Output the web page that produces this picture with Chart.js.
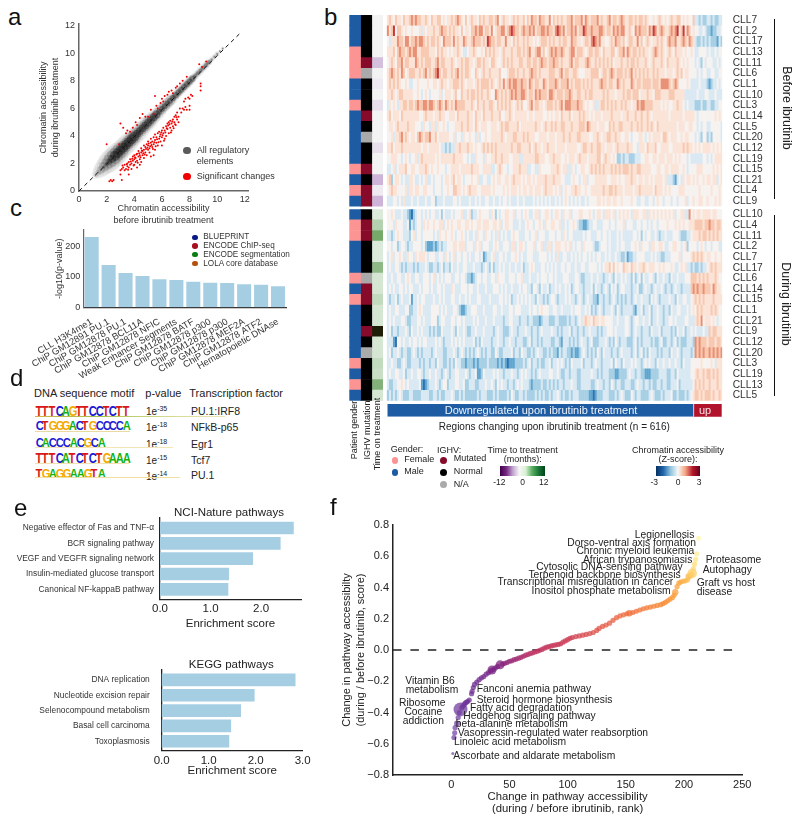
<!DOCTYPE html>
<html><head><meta charset="utf-8">
<script src="https://cdn.jsdelivr.net/npm/chart.js@4"></script>
<style>
html,body{margin:0;padding:0;background:#fff}
#w{position:relative;width:800px;height:821px;overflow:hidden;background:#fff;font-family:"Liberation Sans",Arial,sans-serif;color:#222;filter:blur(.35px)}
#w canvas{position:absolute}
#w span.t{position:absolute;white-space:nowrap;line-height:1}
#w div.g{position:absolute}
</style></head><body><div id="w"></div>
<script>
/* ---------- panel a ---------- */
const cloudX=[1.2,1.4,1.6,1.8,2.0,2.2,2.4,2.6,2.8,3.0,3.2,3.4,3.6,3.8,4.0,4.2,4.4,4.6,4.8,5.0,5.2,5.4,5.6,5.8,6.0,6.2,6.4,6.6,6.8,7.0,7.2,7.4,7.6,7.8,8.0,8.2,8.4,8.6,8.8,9.0,9.2,9.4,9.6,9.8,10.0,10.2,10.4];
const cloudY=[1.15,1.35,1.55,1.75,1.95,2.15,2.35,2.55,2.75,2.95,3.15,3.35,3.55,3.75,3.95,4.15,4.35,4.55,4.75,4.95,5.15,5.35,5.55,5.75,5.95,6.15,6.35,6.55,6.75,6.95,7.15,7.35,7.55,7.75,7.95,8.15,8.35,8.55,8.75,8.95,9.15,9.35,9.55,9.75,9.95,10.15,10.35];
const cloudOuter=[4,6,8,9,10,11,11,11,11,10,10,10,10,9,9,9,9,8,8,8,8,7,7,7,6,6,6,6,6,5,5,5,5,5,5,4,4,4,4,4,4,3,3,3,3,2,2];
const cloudMid=[2,3,4,5,6,7,8,8,8,8,7,7,7,7,7,6,6,6,6,6,6,5,5,5,5,5,5,5,4,4,4,4,4,4,4,4,3,3,3,3,3,3,2,2,2,1,1];
const cloudCore=[.5,.5,1,1.5,2,3,4,5,5,5,5,5,5,5,5,4,4,4,4,4,4,4,4,3,3,3,3,3,3,3,3,3,3,3,3,3,2,2,2,2,2,2,1,1,1,1,1];
const identityX=[0,11.6], identityY=[0,11.4];
const redPairs=[[3.0,1.5],[3.1,1.6],[3.2,1.7],[3.3,1.5],[3.3,1.9],[3.4,1.6],[3.5,1.8],[3.5,2.0],[3.6,1.7],[3.6,2.1],[3.7,1.9],[3.7,2.3],[3.8,1.6],[3.8,2.0],[3.9,2.2],[3.9,2.5],[4.0,1.9],[4.0,2.3],[4.0,2.6],[4.1,2.1],[4.1,2.4],[4.2,1.7],[4.2,2.2],[4.2,2.7],[4.3,2.5],[4.3,2.9],[4.4,2.3],[4.4,2.6],[4.5,2.1],[4.5,2.8],[4.5,3.1],[4.6,2.6],[4.6,2.9],[4.7,2.4],[4.7,3.0],[4.7,3.3],[4.8,2.8],[4.8,3.2],[4.9,2.6],[4.9,3.4],[5.0,3.0],[5.0,3.3],[5.0,3.6],[5.1,2.8],[5.1,3.1],[5.2,3.5],[5.2,2.5],[5.2,3.8],[5.3,3.2],[5.3,3.6],[5.4,3.4],[5.4,3.9],[5.5,3.0],[5.5,3.7],[5.5,4.1],[5.6,3.5],[5.6,3.9],[5.7,3.3],[5.7,4.2],[5.8,3.8],[5.8,4.3],[5.9,3.6],[5.9,4.1],[6.0,4.4],[6.0,3.9],[6.0,3.3],[6.1,4.2],[6.1,4.6],[6.2,3.8],[6.2,4.4],[6.3,4.7],[6.3,4.0],[6.4,4.5],[6.4,4.9],[6.5,4.2],[6.5,5.0],[6.6,4.6],[6.6,5.1],[6.7,4.4],[6.7,4.9],[6.8,5.2],[6.8,4.7],[6.9,5.0],[6.9,5.4],[7.0,4.8],[7.0,5.5],[7.1,5.2],[7.1,5.7],[7.2,5.0],[7.2,5.4],[7.3,6.0],[7.4,5.7],[7.5,6.0],[7.6,5.9],[7.7,6.1],[7.8,5.9],[8.0,5.9],[8.0,6.2],
[3.15,1.85],[3.45,1.95],[3.55,1.55],[3.75,2.15],[3.85,2.35],[3.95,1.85],[4.05,2.45],[4.15,2.65],[4.25,2.05],[4.35,2.75],[4.45,2.45],[4.55,2.95],[4.65,2.75],[4.75,2.65],[4.85,3.05],[4.95,3.15],[5.05,3.45],[5.15,3.25],[5.25,3.35],[5.35,3.05],[5.45,3.55],[5.55,3.25],[5.65,3.75],[5.75,3.55],[5.85,3.95],[5.95,4.25],[6.05,4.05],[6.15,3.65],[6.25,4.25],[6.35,4.55],[6.45,4.75],[6.55,4.85],[6.65,4.25],[6.75,5.05],[6.85,4.55],[6.95,4.85],[7.05,5.35],
[8.0,6.7],[8.1,7.0],[7.9,6.8],[8.2,6.9],[7.6,6.5],[7.7,6.7],[8.8,7.3],[8.8,7.6],[8.8,7.8],[2.0,3.4],[2.9,3.4],[3.0,4.9],[3.2,4.6],[3.4,4.2],[3.5,4.4],[3.7,4.3],[3.9,4.6],[4.1,5.0],[4.2,4.8],[4.4,5.3],[4.6,5.6],[4.8,5.4],[5.0,5.4],[5.2,5.9],[5.4,5.6],[5.6,6.2],[5.7,6.0],[5.5,6.9],[5.9,6.4],[6.0,6.7],[6.1,6.5],[6.2,6.9],[6.4,7.0],[6.5,7.2],[6.7,7.3],[6.8,7.1],[7.0,7.5],[7.1,7.6],[7.3,7.8],[7.5,8.0],[7.8,8.3],[8.7,9.2],[8.9,9.0],[9.2,9.4],[2.2,0.7],[2.3,0.8],[2.5,0.8],[2.4,0.7],[3.1,0.8],[3.0,1.2],[3.6,1.2],[4.4,1.9],[5.4,2.6]];
/* ---------- panel b ---------- */
const rowsBefore=["CLL7","CLL2","CLL17","CLL13","CLL11","CLL6","CLL1","CLL10","CLL3","CLL14","CLL5","CLL20","CLL12","CLL19","CLL15","CLL21","CLL4","CLL9"];
const rowsDuring=["CLL10","CLL4","CLL11","CLL2","CLL7","CLL17","CLL6","CLL14","CLL15","CLL1","CLL21","CLL9","CLL12","CLL20","CLL3","CLL19","CLL13","CLL5"];
const genderBefore="MMMFFFMMFMMMMMFMFM".split("");
const genderDuring="MFFMMMFMFMMMMMFMFM".split("");
const ighvBefore="NNNNMXNNNMNXNNMNMM".split("");
const ighvDuring="NMMNNNXMMNNMNXNNNN".split("");
const timeBefore=[0,0,0,0,-5,0,-1,0,-2,0,0,0,-2,0,0,-6,-1,-6];
const timeDuring=[1,4,9,1,1,7,1.5,1.5,3,1.5,1.5,99,1.5,1.5,3,2.5,8,1.5];
const regionsDown=565, regionsUp=51;
/* z-score classes, one per block of regions: 0 = strongly closed … 4 = unchanged … 8 = strongly open */
const heatBefore=[
"5654655465 5676766556 5465566454 5565676546 4565546565 5665674565 5456565564 6576657665 5746565655 6675666757 6566675655 6756656765 5665656656 5445456545 4565566454 5446332322 33232233",
"7568466545 4454445354 5556556766 5656554645 5466767756 6574566775 6787665676 6767566776 7665787675 6676756687 6676667765 6657676775 5654767666 5768756765 5676785685 7645443343 22122334",
"4355576657 7566767765 6566565476 6657565576 5567666565 8766566557 5546565565 6554545666 5656556566 5576655456 6578767554 4565766564 5665575645 6545565654 6766755676 5765322323 23222132",
"5556467665 6767755666 6555465655 4545565433 4556544546 5656554565 5565566565 6755677564 5676766765 5677566654 5665665465 5566456675 7656656565 5456765654 5654655545 4454334444 34334344",
"4565466756 6555765656 6655675665 5565455656 6554566565 5466544565 6565556655 6656656766 5667665655 5675665556 7655656565 6564555655 6566565556 5456555654 6555565454 5444343243 44433434",
"5676565764 5666556567 5656786566 5565675656 6544654565 5655556444 5666565565 5676656555 5666556756 6556654445 5566664566 5676566656 5675656565 6556565554 5554565645 5444434344 33443344",
"5656565445 4334454444 5445545655 4556665654 5554565666 6565456575 6767766766 5765665576 5666765666 7565666565 6565556766 5665576565 5576566566 6656665777 7656764444 5433334333 21233434",
"5565456655 5554454345 4344445345 5545644655 6566565655 6544765656 5676766776 5665767666 5776566656 6765566556 5665555565 6555455565 6656664555 6554666555 5666555553 3333343334 43334333",
"3545435566 5665676677 6776567657 6565766665 5565465565 5665465656 5654565644 5675665545 6665656757 7766676654 5445335665 6565655656 5545576776 6665555454 5445565543 4333222322 33223344",
"5645554655 5555554456 5554556554 4555465555 6554655465 5565556445 5654555555 4554555544 5454554655 5645556565 5454555455 5565555455 6555655655 6545555555 5455555545 5555434444 44445454",
"4554565555 6555444354 4355354454 3444555655 6554654555 4455545656 6555564555 5555655456 5565655665 5565556665 7655545554 4656556655 5565565655 6565465555 5555545554 4554434344 33444443",
"4453556756 5455467656 6755645555 5445344354 4544353445 4455555654 5556655565 6555445555 4555455565 5655566555 5445565455 6655655445 5434445543 4545555466 5455544545 5444343244 23244443",
"5564555655 5555555455 4555554332 3233556555 6554544565 6565655555 5565566555 5645655455 6555455554 5555544566 5565566554 5554565555 6554435554 6555644555 5445555565 6554545455 55454545",
"4455544345 4344535655 5555454555 5556555544 3433544435 4455655655 5445553355 5555665554 4556555445 4555456555 4555566456 5545422323 3222333445 5445545554 5554545444 3433333344 34345555",
"3345345556 4455445556 5454454443 4455554555 5565554455 5533456544 3445556555 3344335444 4455565455 3354344554 4565656565 5565656566 6565566555 5544455445 5455554454 3444455544 44454545",
"5624554343 3554334345 3343444345 5456455434 4454453344 3345455445 5456555454 5545455556 5556555443 3345443455 3444555555 4455545445 5565545545 5454555545 3332134354 5545454454 55455345",
"4565544445 3554554455 4443444344 5446655454 5655544555 5545444454 5455545455 4554555456 5554545345 4455655445 4455555565 5665655545 5554556555 5554655545 4544445554 4444445444 44544454",
"3334434353 3343343334 3344233343 3334434333 3433434334 4334334344 3433343343 3334343434 3433434345 4343434334 3444455454 5545544544 4454433443 3443454434 4434434445 3445445544 54445454"];
const heatDuring=[
"4454333433 2102344343 4344334243 3343444533 4523345444 4354243445 5445344345 4334553445 5434554354 4534445544 4543455435 5545345454 5435554455 3545454545 4545344553 3745455455 55455444",
"4443544433 4132344354 5445445534 5454455445 5454455455 5445545345 5443334334 5443445435 4455445334 3445432211 2334433344 4344344453 4443344344 3434434444 5444545454 4555666656 67665665",
"3323454433 3245344344 4443435445 4454344543 4334354435 4434353434 3345443334 4344534443 3444344354 3443333343 4433344344 3433343433 3334434243 4433432334 3334443222 3345556566 56565655",
"4434423443 2334444342 1112123233 4445545553 4443545344 4334543344 4355345543 4445344533 5534555445 4534344354 4443223444 3433343443 3344543544 4355445543 3445544345 2444434543 44344433",
"3453445433 5443545554 3444334435 4345344344 3433443412 3345334434 3344543433 4443334444 3434353344 3343434344 3434344334 3433433223 1223344443 3343433223 3344445344 4456565654 55445445",
"3433443232 3332323334 3223323423 3243343344 3334333234 3242334343 3433433423 3454333443 4343433443 4433433443 3444434345 5646454465 5465545565 4555445454 4454334545 3323223233 45656555",
"3343344334 5433443344 4345343434 4433443443 2212344344 3344354443 3444344533 3433343444 3443433344 4333443223 3343343323 3432433434 3324234243 3443243343 3243343334 4466656565 65556544",
"3434334434 3443334344 4343344343 3354333444 3443343334 3334443434 3343334344 3324432433 4233434334 3423443323 3342433234 3243423443 3323342234 3323433432 3323433233 3367676676 66576554",
"3233423433 3413343443 3334334343 3344334334 3433344333 3433334434 3423343434 3433243323 2344323334 3433234323 4332213323 3234323232 3323433433 3243432333 3433243344 3345656565 55565555",
"3433443334 4223345433 3344443434 3334432112 3344433343 3334433433 3443444333 3434434544 4334433433 3343444334 3423234323 3343243233 3332133423 3423343323 3243344333 4345465655 55656544",
"3434333443 2233344343 3344423443 3344344343 3334343334 3334333323 3443332333 2332221233 3222332222 3233234356 5546554554 4443343334 4323443343 3423343323 3443433334 4333565745 55454344",
"3423323334 3243343433 3232322433 3343243343 2233433343 3332343322 2343323334 3323323433 3343323233 3423323323 3433323233 4443433334 4323433233 3243334233 3323243342 3343433343 36566555",
"3331044343 3434434344 3333434323 3343434343 3334232433 3323343323 3433233322 3423323233 3322332133 3232323433 2342223334 3232432333 2223423233 3323223422 3323423222 3332767666 56665665",
"3423343233 2234323233 3323433322 3334323432 3232343232 3322432233 3342332433 2232343322 3232213233 2212112343 2323243243 3323323433 3323423423 2433323233 3243343233 3323767676 67676767",
"3343322343 2233332323 3233243322 3232433221 2221212222 3222212121 0111222232 3423323223 3423343432 3243333423 3323433233 3342433243 3343433234 3433243343 3433433243 3344444544 44543555",
"3433443342 3343344323 3433433234 3233443334 3233411243 3334343323 3343323434 3323234333 3443343223 3233322333 3343323233 3222112222 3433233221 1122223333 2233243333 3344565565 66565655",
"3223344543 4333334101 2333432344 2333443342 2333223334 3343243433 2332343433 3212222322 3232323323 3343322333 3322343323 3243233223 3322343323 3232233233 2233342333 3334656565 56555655",
"2323234322 2332222333 3223323223 3343223232 2222232333 2223232222 3243223323 2222323232 2323343232 2323332222 2110122233 3222323432 2243233222 2343222323 3342232223 2345665656 66565565"];
/* ---------- panel c ---------- */
const enrichLabels=["CLL H3K4me1","ChiP GM12891 PU.1","ChiP GM12878 PU.1","ChiP GM12878 BCL11A","ChiP GM12878 NFIC","Weak Enhancer Segments","ChiP GM12878 BATF","ChiP GM12878 p300","ChiP GM12878 p300","ChiP GM12878 MEF2A","ChiP GM12878 ATF2","Hematopoietic DNAse"];
const enrichValues=[231,139,113,103,92,90,84,81,80,76,74,69];
const enrichSource=["B","E","E","E","E","S","E","E","E","E","E","L"];
/* ---------- panel e ---------- */
const nciLabels=["Negative effector of Fas and TNF-α","BCR signaling pathway","VEGF and VEGFR signaling network","Insulin-mediated glucose transport","Canonical NF-kappaB pathway"];
const nciValues=[2.64,2.38,1.835,1.36,1.346];
const keggLabels=["DNA replication","Nucleotide excision repair","Selenocompound metabolism","Basal cell carcinoma","Toxoplasmosis"];
const keggValues=[2.84,1.97,1.68,1.47,1.43];
/* ---------- panel f ---------- */
const curveRank=[1.4,2.4,3,3.4,5,6,7,8,9,10,11,12,13,14,15.5,17.5,18,19,20,22,24,26,28,30,32,34,35,36,38,40,42,44,46,48,50,52,54,56,58,60,62,64,66,68,70,72,74,76,78,80,82,84,86,88,90,92,94,96,98,100,102,104,107,110,113,116,119,122,125,127,130,133,136,139,142,145,148,151,153,156,159,162,165,168,171,174,177,180,182,184,186,188,190,191.5,192.5,194,195.5,197,199,201,203,204,205,206.5,207,208,209,210,211,212.5];
const curveScore=[-.662,-.56,-.53,-.497,-.47,-.432,-.40,-.38,-.37,-.36,-.35,-.34,-.335,-.33,-.32,-.28,-.264,-.24,-.22,-.205,-.19,-.178,-.17,-.155,-.145,-.132,-.128,-.125,-.115,-.105,-.095,-.09,-.085,-.08,-.072,-.069,-.062,-.058,-.052,-.047,-.04,-.033,-.028,-.022,-.018,-.012,-.008,-.002,.004,.012,.018,.022,.026,.03,.033,.036,.04,.05,.058,.066,.075,.08,.086,.09,.095,.1,.105,.112,.125,.138,.151,.16,.172,.19,.207,.218,.225,.232,.235,.24,.248,.256,.264,.27,.275,.28,.285,.29,.297,.305,.315,.325,.335,.35,.37,.405,.428,.435,.44,.443,.448,.47,.475,.485,.49,.52,.549,.58,.616,.715];
const curveSizeRanks={1.4:1.5,5:3,8:7,35:4.5,42:4.5,153:3.2,192.5:3.2,204:3.2,207:4.8,212.5:2.5};
const thresholdX=[-50,245], thresholdY=[0,0];

/* ---------- helpers ---------- */
Chart.defaults.font.family='"Liberation Sans",Arial,sans-serif';
const W=document.getElementById('w');
function T(text,x,y,o={}){
  const s=document.createElement('span');s.className='t';
  if(o.html)s.innerHTML=text;else s.textContent=text;
  s.style.left=x+'px';s.style.top=y+'px';s.style.fontSize=(o.size||10)+'px';
  s.style.color=o.color||'#222';
  if(o.weight)s.style.fontWeight=o.weight;
  const ax=o.align==='r'?'-100%':o.align==='c'?'-50%':'0';
  s.style.transform=`translate(${ax},-50%)`+(o.rot?` rotate(${o.rot}deg)`:'')+(o.extra||'');
  W.appendChild(s);return s;
}
function dot(x,y,r,c){const d=document.createElement('div');d.className='g';
  d.style.cssText+=`left:${x-r}px;top:${y-r}px;width:${2*r}px;height:${2*r}px;border-radius:50%;background:${c}`;W.appendChild(d);}
function rect(x,y,w,h,bg){const d=document.createElement('div');d.className='g';
  d.style.cssText+=`left:${x}px;top:${y}px;width:${w}px;height:${h}px;background:${bg}`;W.appendChild(d);}
function build(b,m,cfg,soft){
  const c=document.createElement('canvas');
  const cx=Math.floor(b.l-m.l),cy=Math.floor(b.t-m.t),cw=Math.ceil(b.r+m.r)-cx,ch=Math.ceil(b.b+m.b)-cy;
  c.width=cw;c.height=ch;c.style.left=cx+'px';c.style.top=cy+'px';c.style.width=cw+'px';c.style.height=ch+'px';
  if(soft)c.style.filter=`blur(${soft}px)`;
  W.appendChild(c);
  const p={left:b.l-cx,top:b.t-cy,right:cx+cw-b.r,bottom:cy+ch-b.b};
  const padding=Object.assign({},p);
  const o=cfg.options=cfg.options||{};
  Object.values(o.scales||{}).forEach(s=>{
    if(s.display===false)return;
    const pos=s.position;padding[pos]=0;
    s.afterFit=sc=>{if(pos==='left'||pos==='right')sc.width=p[pos];else sc.height=p[pos];
      sc.paddingLeft=sc.paddingRight=sc.paddingTop=sc.paddingBottom=0;};
  });
  o.responsive=false;o.animation=false;o.devicePixelRatio=1;o.layout={padding};
  o.plugins=Object.assign({legend:{display:false},tooltip:{enabled:false}},o.plugins||{});
  return new Chart(c,cfg);
}
const axis=(extra,border='#333',bw=1.5)=>Object.assign({grid:{display:false,drawTicks:false},border:{color:border,width:bw}},extra);

/* ---------- a ---------- */
const cloudLayer=(radii,alpha,ord)=>({type:'bubble',order:ord,data:cloudX.map((x,i)=>({x,y:cloudY[i],r:radii[i]})),backgroundColor:`rgba(0,0,0,${alpha})`,borderWidth:0});
build({l:79,r:249,t:16.7,b:191},{l:41,r:10,t:3,b:35},{type:'scatter',data:{datasets:[
  {type:'line',order:1,data:identityX.map((x,i)=>({x,y:identityY[i]})),borderColor:'#111',borderWidth:1,borderDash:[4,3.6],pointRadius:0,showLine:true},
  {order:2,data:redPairs.map(p=>({x:p[0],y:p[1]})),pointRadius:1,backgroundColor:'#f00000',borderWidth:0},
  cloudLayer(cloudCore,.34,3),cloudLayer(cloudMid,.13,4),cloudLayer(cloudOuter,.05,5)
]},options:{scales:{
  x:axis({type:'linear',position:'bottom',min:0,max:12.23,ticks:{stepSize:2,includeBounds:false,padding:3,color:'#333',font:{size:9},maxRotation:0},
    title:{display:true,text:['Chromatin accessibility','before ibrutinib treatment'],font:{size:9,lineHeight:1.3},color:'#333',padding:0}},'#666'),
  y:axis({type:'linear',position:'left',min:0,max:12.13,ticks:{stepSize:2,includeBounds:false,padding:4,color:'#333',font:{size:9}},
    title:{display:true,text:['Chromatin accessibility','during ibrutinib treatment'],font:{size:9,lineHeight:1.3},color:'#333',padding:0}},'#666')
}}});
dot(187,150.7,3.6,'#5a5a5a');dot(187,176.3,3.6,'#f00000');
T('All regulatory',196.7,150,{size:9,color:'#333'});T('elements',196.7,161.3,{size:9,color:'#333'});T('Significant changes',196.7,176,{size:9,color:'#333'});

/* ---------- b ---------- */
const heatPalette=['#2b72b2','#5fa5d0','#a5cfe5','#d9e9f3','#f6f2f0','#fbe3d6','#f8c8b0','#ea8f73','#c23a3a'];
const genderColor={M:'#1d5ca3',F:'#fc9494'},ighvColor={N:'#000000',M:'#860b2b',X:'#aaaaaa'};
function timeColor(v){
  if(v>12)return '#1e1e08';
  if(v<0){const t=-v/8;return `rgb(${246-t*55},${244-t*85},${246-t*40})`;}
  if(v===0)return '#f4f3f4';
  const t=v/9;return `rgb(${232-t*115},${242-t*72},${232-t*125})`;
}
function annot(top,labels,gender,ighv,time){
  const col=(arr,fn)=>({data:labels.map(()=>1),backgroundColor:arr.map(fn),borderWidth:0,barPercentage:1,categoryPercentage:1});
  build({l:349.3,r:383,t:top,b:top+191.6},{l:0,r:0,t:0,b:0},{type:'bar',data:{labels,datasets:[col(gender,g=>genderColor[g]),col(ighv,g=>ighvColor[g]),col(time,timeColor)]},
    options:{indexAxis:'y',scales:{x:{display:false,stacked:true,min:0,max:3},y:{display:false,stacked:true}}}});
}
function heat(top,labels,rows){
  const cells=rows.map(r=>r.replace(/ /g,'').split('').map(Number));
  const n=168,span=(regionsDown+regionsUp)/n;
  const datasets=[];
  for(let j=0;j<n;j++)datasets.push({data:labels.map(()=>span),backgroundColor:cells.map(r=>heatPalette[r[j]===undefined?4:r[j]]),borderWidth:0,barPercentage:1,categoryPercentage:1,inflateAmount:.25});
  build({l:386.7,r:722.3,t:top,b:top+191.6},{l:0,r:50,t:0,b:0},{type:'bar',data:{labels,datasets},options:{indexAxis:'y',scales:{
    x:{display:false,stacked:true,min:0,max:regionsDown+regionsUp},
    y:{position:'right',stacked:true,grid:{display:false,drawTicks:false},border:{display:false},ticks:{padding:10.4,color:'#333',font:{size:10.2},autoSkip:false}}
  }}},.35);
}
annot(15,rowsBefore,genderBefore,ighvBefore,timeBefore);
annot(209.2,rowsDuring,genderDuring,ighvDuring,timeDuring);
heat(15,rowsBefore,heatBefore);
heat(209.2,rowsDuring,heatDuring);
build({l:387.3,r:721.7,t:404,b:416.7},{l:0,r:0,t:0,b:0},{type:'bar',data:{labels:['regions'],datasets:[
  {data:[regionsDown],backgroundColor:'#1d5ca3',borderColor:'#fff',borderWidth:{right:1},borderSkipped:false,barPercentage:1,categoryPercentage:1},
  {data:[regionsUp],backgroundColor:'#b0132b',borderWidth:0,barPercentage:1,categoryPercentage:1}
]},options:{indexAxis:'y',scales:{x:{display:false,stacked:true,min:0,max:regionsDown+regionsUp},y:{display:false,stacked:true}}}});
T('Downregulated upon ibrutinib treatment',541,410.3,{size:11,align:'c',color:'#eef3fa'});
T('up',705,410.3,{size:11,align:'c',color:'#f6e6e8'});
T('Regions changing upon ibrutinib treatment (n = 616)',554.3,427.3,{size:10,align:'c'});
rect(773.6,19,1.4,180,'#111');rect(773.6,215,1.4,181,'#111');
T('Before ibrutinib',786.7,108,{size:12.4,align:'c',rot:90});
T('During ibrutinib',785.7,304,{size:12.4,align:'c',rot:90});
T('Patient gender',354,430,{size:9,align:'c',rot:-90});
T('IGHV mutation',366.7,430,{size:9,align:'c',rot:-90});
T('Time on treatment',377.3,434,{size:9,align:'c',rot:-90});
T('Gender:',390.7,449.3,{size:9});dot(395,460.7,3.3,'#fc9494');dot(395,472.3,3.3,'#1d5ca3');
T('Female',404.3,459.3,{size:9});T('Male',404.3,471,{size:9});
T('IGHV:',437,449.7,{size:9});dot(443.7,460.3,3.5,'#860b2b');dot(443.7,472,3.5,'#000');dot(443.7,484.3,3.5,'#aaa');
T('Mutated',453.7,458,{size:9});T('Normal',453.7,471,{size:9});T('N/A',453.7,484,{size:9});
T('Time to treatment',522.7,450,{size:9,align:'c'});T('(months):',522.7,458.8,{size:9,align:'c'});
rect(500.3,466,44.7,10.3,'linear-gradient(90deg,#40004b,#762a83,#c2a5cf,#f7f7f7,#d9f0d3,#5aae61,#1b7837,#00441b)');
T('-12',499.3,481.7,{size:8.5,align:'c'});T('0',522.7,481.7,{size:8.5,align:'c'});T('12',543.7,481.7,{size:8.5,align:'c'});
T('Chromatin accessibility',678,450,{size:9,align:'c'});T('(Z-score):',678,459,{size:9,align:'c'});
rect(656,466,44.3,10.3,'linear-gradient(90deg,#053061,#2166ac,#92c5de,#f7f7f7,#f4a582,#b2182b,#67001f)');
T('-3',654.3,481.7,{size:8.5,align:'c'});T('0',678,481.7,{size:8.5,align:'c'});T('3',699,481.7,{size:8.5,align:'c'});

/* ---------- c ---------- */
const sourceColor={B:'#0a1a85',E:'#a80f1e',S:'#0b7d16',L:'#b4510e'};
const markerLevel=-15.8;
build({l:83.2,r:286.5,t:228,b:307.3},{l:60,r:6,t:2,b:70},{type:'bar',data:{labels:enrichLabels,datasets:[
  {type:'line',order:1,data:enrichLabels.map(()=>markerLevel),showLine:false,clip:false,pointRadius:2.8,pointBackgroundColor:enrichSource.map(s=>sourceColor[s]),pointBorderWidth:0},
  {order:2,data:enrichValues,backgroundColor:'#a6cee3',barPercentage:.83,categoryPercentage:1}
]},options:{scales:{
  x:axis({position:'bottom',ticks:{autoSkip:false,minRotation:30,maxRotation:30,padding:9,color:'#333',font:{size:9.4}}},'#333',1.2),
  y:axis({type:'linear',position:'left',min:0,max:254,ticks:{stepSize:100,includeBounds:false,padding:3,color:'#333',font:{size:9}},
    title:{display:true,text:'-log10(p-value)',font:{size:9,lineHeight:1.3},color:'#333',padding:{top:31,bottom:0}}},'#666',1.2)
}}});
[['BLUEPRINT','B',237.3],['ENCODE ChIP-seq','E',246],['ENCODE segmentation','S',254.7],['LOLA core database','L',263.7]].forEach(r=>{dot(195,r[2],2.8,sourceColor[r[1]]);T(r[0],203.3,r[2],{size:8.2,color:'#333'});});

/* ---------- d ---------- */
const logoColor={A:'#12b312',C:'#1a1ad6',G:'#f4a900',T:'#d81818'};
function logo(seq,y,pitch,sy){seq.split('').forEach((ch,i)=>T(ch,34.5+i*pitch,y,{size:13,weight:'bold',color:logoColor[ch],extra:` scale(.86,${sy})`,}));}
T('DNA sequence motif',34,393,{size:11});T('p-value',145.3,393,{size:11});T('Transcription factor',189.3,393,{size:11});
const motifs=[['TTTCAGTTCCTCTT',410.5,6.7,1.1,'1e','-35','PU.1:IRF8',410.7,412.3],['CTGGGACTGCCCCA',426,6.7,.95,'1e','-18','NFkB-p65',427.3,428.3],['CACCCACGCA',441.5,6.9,1.05,'1e','-18','Egr1',444,445],['TTTCATCTCTGAAA',457.5,6.7,1.1,'1e','-15','Tcf7',460,460.7],['TGAGGAAGTA',472.8,6.9,1.05,'1e','-14','PU.1',475.3,477.3]];
motifs.forEach(m=>{logo(m[0],m[1],m[2],m[3]);T(`${m[4]}<sup style="font-size:7px;vertical-align:4px;line-height:0">${m[5]}</sup>`,146,m[8],{size:10,html:true});T(m[6],191,m[7],{size:10.5});});
rect(35,415.6,190,1,'linear-gradient(90deg,#d2b24a,#a6c24c,#cfd88a,#efe6b4)');
rect(35,431.4,95,.8,'#ecd9a0');rect(35,446.8,138,.9,'#f3e5b5');rect(35,462.6,94,.8,'#efe2b0');rect(35,477.4,145,1,'#f1dfa0');

/* ---------- e ---------- */
function hbars(b,m,labels,values,xmax,lp,yr){
  build(b,m,{type:'bar',data:{datasets:[{data:values.map((v,i)=>({x:v,y:i})),backgroundColor:'#a6cee3',barThickness:12}]},options:{indexAxis:'y',scales:{
    x:axis({type:'linear',position:'bottom',min:0,max:xmax,ticks:{stepSize:1,includeBounds:false,padding:3,color:'#222',font:{size:11.5},maxRotation:0,callback:v=>v.toFixed(1)},
      title:{display:true,text:'Enrichment score',font:{size:11.5,lineHeight:1.2},color:'#222',padding:0}},'#222',1.3),
    y:axis({type:'linear',position:'left',reverse:true,offset:false,min:yr[0],max:yr[1],ticks:{stepSize:1,includeBounds:false,autoSkip:false,padding:lp,color:'#333',font:{size:8.4},callback:v=>labels[v]}},'#222',1.3)
  }}});
}
hbars({l:160,r:301,t:518,b:599.3},{l:150,r:10,t:3,b:31},nciLabels,nciValues,2.79,6,[-.65,4.65]);
hbars({l:161.7,r:302.7,t:670,b:750.7},{l:150,r:12,t:3,b:27},keggLabels,keggValues,3,12,[-.65,4.62]);
T('NCI-Nature pathways',229,512.7,{size:11.5,align:'c'});T('KEGG pathways',231.3,664.7,{size:11.5,align:'c'});

/* ---------- f ---------- */
const curveStops=[[0,[120,80,170]],[15,[110,50,150]],[40,[125,35,130]],[70,[190,50,100]],[100,[205,60,85]],[150,[240,105,60]],[185,[248,140,50]],[205,[252,190,80]],[210,[254,230,130]],[213,[255,248,180]]];
function curveColor(r,a){let i=0;while(i<curveStops.length-2&&r>curveStops[i+1][0])i++;const A=curveStops[i],B=curveStops[i+1],t=Math.min(1,(r-A[0])/(B[0]-A[0]));
  const c=A[1].map((v,k)=>Math.round(v+(B[1][k]-v)*t));return `rgba(${c[0]},${c[1]},${c[2]},${a})`;}
build({l:393,r:742.2,t:521,b:775},{l:54,r:12,t:3,b:40},{type:'scatter',data:{datasets:[
  {order:1,data:curveRank.map((x,i)=>({x,y:curveScore[i]})),pointRadius:curveRank.map(r=>curveSizeRanks[r]||2.6),pointBackgroundColor:curveRank.map(r=>curveColor(r,.75)),pointBorderWidth:0,clip:false},
  {type:'line',order:2,data:thresholdX.map((x,i)=>({x,y:thresholdY[i]})),borderColor:'#222',borderWidth:1.5,borderDash:[8.5,8.9],pointRadius:0,showLine:true}
]},options:{scales:{
  x:axis({type:'linear',position:'bottom',min:-50,max:250,ticks:{stepSize:50,padding:3,color:'#222',font:{size:11},maxRotation:0,callback:v=>v<0?'':String(v)},
    title:{display:true,text:['Change in pathway accessibility','(during / before ibrutinib, rank)'],font:{size:11.3,lineHeight:1.07},color:'#222',padding:0}},'#222',1.5),
  y:axis({type:'linear',position:'left',min:-.8,max:.8,ticks:{stepSize:.2,padding:4,color:'#222',font:{size:11},callback:v=>v.toFixed(1).replace('-','−')},
    title:{display:true,text:['Change in pathway accessibilty','(during / before ibrutinib, score)'],font:{size:11,lineHeight:1.36},color:'#222',padding:0}},'#222',1.5)
}}});
[['Legionellosis',694.3,534.7],['Dorso-ventral axis formation',696,543.3],['Chronic myeloid leukemia',694.3,551.3],['African trypanosomiasis',692.3,559.7],['Cytosolic DNA-sensing pathway',682.7,567.3],['Terpenoid backbone biosynthesis',680.7,575],['Transcriptional misregulation in cancer',673.3,582],['Inositol phosphate metabolism',670.7,591]].forEach(r=>T(r[0],r[1],r[2],{size:10.3,align:'r'}));
[['Proteasome',705.7,559.7],['Autophagy',702.7,570.3],['Graft vs host',696.7,582.7],['disease',696.7,592.3],['Fanconi anemia pathway',476.7,689],['Steroid hormone biosynthesis',476.7,700],['Fatty acid degradation',470,708.3],['Hedgehog signaling pathway',463.3,716.3],['beta-alanine metabolism',455.7,724.3],['Vasopressin-regulated water reabsorption',457.7,732.7],['Linoleic acid metabolism',454,741.7],['Ascorbate and aldarate metabolism',453.3,755.7]].forEach(r=>T(r[0],r[1],r[2],{size:10.3}));
[['Vitamin B6',430,681],['metabolism',432,690],['Ribosome',422.3,703.3],['Cocaine',423.3,711.7],['addiction',423.3,720.7]].forEach(r=>T(r[0],r[1],r[2],{size:10.3,align:'c'}));

/* ---------- panel letters ---------- */
[['a',8,17],['b',324,17],['c',10,208],['d',10,378],['e',14,508],['f',330,507]].forEach(r=>T(r[0],r[1],r[2],{size:24,color:'#111'}));
</script></body></html>
